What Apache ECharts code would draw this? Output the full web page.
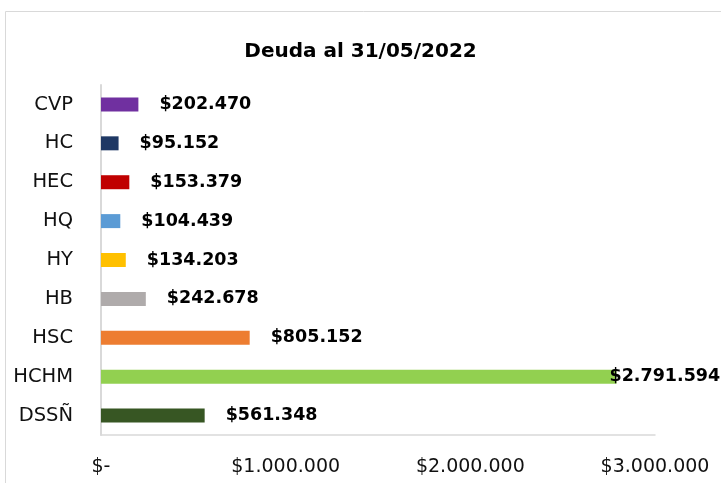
<!DOCTYPE html>
<html>
<head>
<meta charset="utf-8">
<script src="https://cdn.jsdelivr.net/npm/echarts@6/dist/echarts.min.js"></script>
<style>
  html, body { margin: 0; padding: 0; background: #fff; }
  #chart { width: 721px; height: 483px; }
</style>
</head>
<body>
<div id="chart"></div>
<script>
// Deuda al 31/05/2022 - barras horizontales por establecimiento
const categorias = ["CVP", "HC", "HEC", "HQ", "HY", "HB", "HSC", "HCHM", "DSSÑ"];
const deuda = [202470, 95152, 153379, 104439, 134203, 242678, 805152, 2791594, 561348];
const colores = ["#7030a0", "#1f3864", "#c00000", "#5b9bd5", "#ffc000", "#afabab", "#ed7d31", "#92d050", "#375623"];
const ticksX = [0, 1000000, 2000000, 3000000];

const fmt = v => "$" + String(v).replace(/\B(?=(\d{3})+(?!\d))/g, ".");

const chart = echarts.init(document.getElementById("chart"));
chart.setOption({
  animation: false,
  title: {
    text: "Deuda al 31/05/2022",
    left: "center", top: 37,
    textStyle: { fontFamily: "DejaVu Sans", fontSize: 20, fontWeight: "bold", color: "#000" },
  },
  graphic: [{
    type: "rect", shape: { x: 5.5, y: 11.5, width: 800, height: 600 },
    style: { fill: null, stroke: "#d9d9d9", lineWidth: 1 }, silent: true,
  }],
  grid: { left: 101, right: 66, top: 85, bottom: 48 },
  xAxis: {
    type: "value", min: ticksX[0], max: ticksX[ticksX.length - 1], interval: 1000000,
    axisLine: { show: true, lineStyle: { color: "#d9d9d9", width: 1.5 } },
    axisTick: { show: false },
    splitLine: { show: false },
    axisLabel: {
      margin: 23, color: "#111", fontFamily: "DejaVu Sans", fontSize: 19,
      formatter: v => v === 0 ? "$-" : fmt(v),
    },
  },
  yAxis: {
    type: "category", inverse: true, data: categorias,
    axisLine: { show: true, lineStyle: { color: "#d9d9d9", width: 2 } },
    axisTick: { show: false },
    axisLabel: { margin: 28, color: "#111", fontFamily: "DejaVu Sans", fontSize: 19.5 },
  },
  series: [{
    type: "bar", barWidth: 14,
    data: deuda.map((v, i) => ({
      value: v,
      itemStyle: { color: colores[i] },
      // la etiqueta de la barra más larga se monta sobre el extremo, como en Excel
      label: { distance: v > 2000000 ? -7 : 21 },
    })),
    label: {
      show: true, position: "right",
      color: "#000", fontFamily: "DejaVu Sans", fontWeight: "bold", fontSize: 17.5,
      formatter: p => fmt(p.value),
    },
  }],
});
</script>
</body>
</html>
